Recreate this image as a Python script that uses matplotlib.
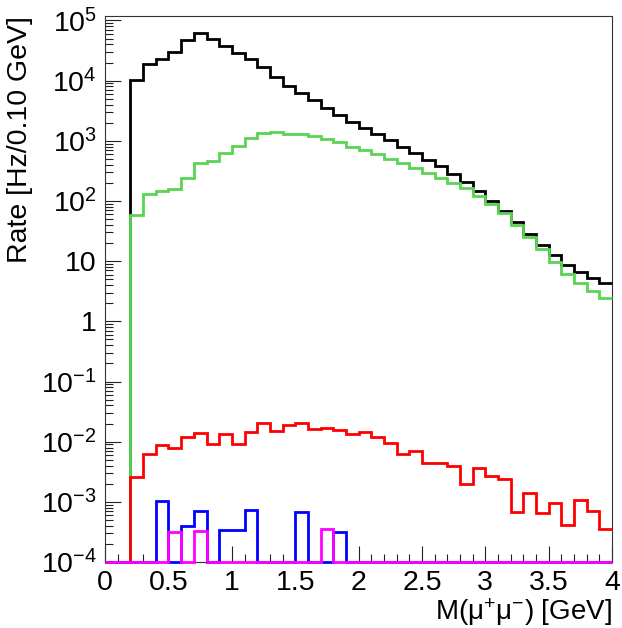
import numpy as np
import matplotlib
matplotlib.use("Agg")
import matplotlib.pyplot as plt
from matplotlib.ticker import FixedLocator, MultipleLocator, NullFormatter

plt.rcParams["font.family"] = ["Liberation Sans", "DejaVu Sans"]
plt.rcParams["mathtext.fontset"] = "custom"
plt.rcParams["mathtext.rm"] = "Liberation Sans"
plt.rcParams["mathtext.it"] = "Liberation Sans:italic"

# 0.1 GeV mass bins from 0 to 4 GeV
bin_edges = np.round(np.arange(0.0, 4.0001, 0.1), 2)

total = [0, 0, 1.04e4, 1.86e4, 2.25e4, 2.98e4, 4.72e4, 6.08e4, 4.83e4, 3.79e4,
         2.9e4, 2.25e4, 1.70e4, 1.16e4, 8.3e3, 6.2e3, 4.69e3, 3.49e3, 2.71e3, 2.07e3,
         1.61e3, 1.31e3, 1.02e3, 798, 634, 485, 376, 284, 209, 149,
         99.8, 68, 44.7, 27.9, 18.5, 12.6, 8.75, 6.6, 5.3, 4.33]

green_rate = [0, 0, 57.7, 129, 145, 156, 244, 426, 468, 625,
              828, 1110, 1360, 1380, 1310, 1280, 1220, 1080, 940, 798,
              693, 595, 497, 421, 357, 295, 240, 199, 162, 122,
              90, 62, 40.4, 25.1, 15.9, 9.7, 6.2, 4.3, 3.15, 2.44]

red_rate = [0, 0, 2.56e-3, 6.2e-3, 8.8e-3, 7.8e-3, 1.21e-2, 1.38e-2, 9.2e-3, 1.33e-2,
            9.0e-3, 1.43e-2, 2.07e-2, 1.51e-2, 1.89e-2, 2.02e-2, 1.63e-2, 1.67e-2, 1.56e-2, 1.36e-2,
            1.47e-2, 1.2e-2, 9.4e-3, 6.2e-3, 6.9e-3, 4.43e-3, 4.5e-3, 3.95e-3, 2.0e-3, 3.7e-3,
            2.72e-3, 2.37e-3, 6.7e-4, 1.42e-3, 6.5e-4, 9.7e-4, 4.2e-4, 1.08e-3, 7.0e-4, 3.5e-4]

blue_rate = [0, 0, 0, 0, 1.02e-3, 0, 3.95e-4, 7.1e-4, 0, 3.35e-4,
             3.45e-4, 7.3e-4, 0, 0, 0, 6.7e-4, 0, 0, 3.1e-4, 0,
             0, 0, 0, 0, 0, 0, 0, 0, 0, 0,
             0, 0, 0, 0, 0, 0, 0, 0, 0, 0]

magenta_rate = [0, 0, 0, 0, 0, 3.1e-4, 0, 3.3e-4, 0, 0,
                0, 0, 0, 0, 0, 0, 0, 3.6e-4, 0, 0,
                0, 0, 0, 0, 0, 0, 0, 0, 0, 0,
                0, 0, 0, 0, 0, 0, 0, 0, 0, 0]

y_ticks = [1e-4, 1e-3, 1e-2, 1e-1, 1, 10, 1e2, 1e3, 1e4, 1e5]
y_tick_labels = [r"$10^{-4}$", r"$10^{-3}$", r"$10^{-2}$", r"$10^{-1}$", "1", "10",
                 r"$10^{2}$", r"$10^{3}$", r"$10^{4}$", r"$10^{5}$"]
x_ticks = [0, 0.5, 1, 1.5, 2, 2.5, 3, 3.5, 4]
x_tick_labels = ["0", "0.5", "1", "1.5", "2", "2.5", "3", "3.5", "4"]

y_min, y_max = 1e-4, 1.2e5

fig = plt.figure(figsize=(6.22, 6.28), dpi=100)
ax = fig.add_axes([0.169, 0.105, 0.815, 0.870])
ax.set_yscale("log")

series = [
    (total, "#000000"),
    (green_rate, "#59d454"),
    (red_rate, "#ff0000"),
    (blue_rate, "#0000ff"),
    (magenta_rate, "#ff00ff"),
]
for z, (vals, col) in enumerate(series):
    v = np.asarray(vals, dtype=float)
    # empty bins sit on the lower edge of the log axis
    v = np.where(v > 0, v, y_min)
    ax.stairs(v, bin_edges, baseline=None, color=col, lw=2.0,
              zorder=3 + z, clip_on=False)

ax.set_xlim(0, 4)
ax.set_ylim(y_min, y_max)

ax.yaxis.set_major_locator(FixedLocator(y_ticks))
ax.set_yticklabels(y_tick_labels)
minor = [m * 10.0 ** e for e in range(-4, 5) for m in range(2, 10)]
ax.yaxis.set_minor_locator(FixedLocator(minor))
ax.yaxis.set_minor_formatter(NullFormatter())

ax.set_xticks(x_ticks)
ax.set_xticklabels(x_tick_labels)
ax.xaxis.set_minor_locator(MultipleLocator(0.1))

ax.tick_params(which="both", direction="in", top=False, right=False, width=0.8,
               color="#222222")
ax.tick_params(which="major", length=11.5, labelsize=20.5)
ax.tick_params(which="minor", length=5.8)
ax.tick_params(axis="x", which="major", pad=6)
ax.tick_params(axis="y", which="major", pad=6)

for s in ax.spines.values():
    s.set_linewidth(0.8)
    s.set_color("#333333")

ax.set_xlabel("M(μ$^{+}$μ$^{-}$) [GeV]", fontsize=20, loc="right")
ax.xaxis.set_label_coords(1.0, -0.062)
ax.set_ylabel("Rate [Hz/0.10 GeV]", fontsize=20.5, loc="top")
ax.yaxis.set_label_coords(-0.142, 1.0)

fig.savefig("out.png", dpi=100)
